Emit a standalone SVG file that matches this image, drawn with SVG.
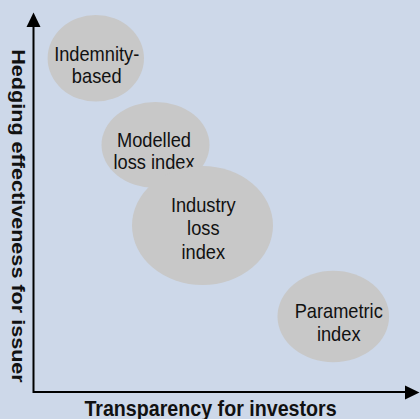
<svg xmlns="http://www.w3.org/2000/svg" width="420" height="419" viewBox="0 0 420 419">
  <defs>
    <style>
      .bubble { fill: #c8c8c8; }
      .lbl { font-family: "Liberation Sans", Arial, sans-serif; font-size: 20.5px; fill: #111; text-anchor: middle; }
      .axis-title { font-family: "Liberation Sans", Arial, sans-serif; font-size: 21.6px; font-weight: bold; fill: #111; text-anchor: middle; }
      .axis { stroke: #000; stroke-width: 2; fill: none; }
      .head { fill: #000; }
    </style>
  </defs>

  <!-- background -->
  <rect x="0" y="0" width="420" height="419" fill="#cdd8e9"/>

  <!-- axes -->
  <g id="connectors">
    <path class="axis" d="M33.5 26 V392 H406"/>
    <polygon class="head" points="33.5,12.5 26.5,27 40.5,27"/>
    <polygon class="head" points="419.5,392.5 405,385.5 405,399.5"/>
  </g>

  <!-- axis titles -->
  <g id="y-title">
    <g transform="translate(11.7,216) scale(0.89,1) rotate(90)">
      <text class="axis-title" x="0" y="0">Hedging effectiveness for issuer</text>
    </g>
  </g>
  <g id="x-title">
    <g transform="translate(210.5,416) scale(0.91,1)">
      <text class="axis-title" x="0" y="0">Transparency for investors</text>
    </g>
  </g>

  <!-- categories -->
  <g id="indemnity">
    <ellipse class="bubble" cx="95.8" cy="58.3" rx="48.2" ry="43.3"/>
    <g transform="translate(96.7,0) scale(0.89,1)">
      <text class="lbl" x="0" y="60.7">Indemnity-</text>
      <text class="lbl" x="0" y="83.3">based</text>
    </g>
  </g>

  <g id="modelled">
    <ellipse class="bubble" cx="155.5" cy="145" rx="54" ry="43"/>
    <g transform="translate(154,0) scale(0.89,1)">
      <text class="lbl" x="0" y="146.7">Modelled</text>
      <text class="lbl" x="0" y="169.3">loss index</text>
    </g>
  </g>

  <g id="industry">
    <ellipse class="bubble" cx="202.5" cy="225.5" rx="70.5" ry="59.5"/>
    <g transform="translate(203.3,0) scale(0.89,1)">
      <text class="lbl" x="0" y="211.7">Industry</text>
      <text class="lbl" x="0" y="235.2">loss</text>
      <text class="lbl" x="0" y="258.7">index</text>
    </g>
  </g>

  <g id="parametric">
    <ellipse class="bubble" cx="333.3" cy="316.5" rx="55.8" ry="45.7"/>
    <g transform="translate(338.7,0) scale(0.89,1)">
      <text class="lbl" x="0" y="318.3">Parametric</text>
      <text class="lbl" x="0" y="341.3">index</text>
    </g>
  </g>
</svg>
